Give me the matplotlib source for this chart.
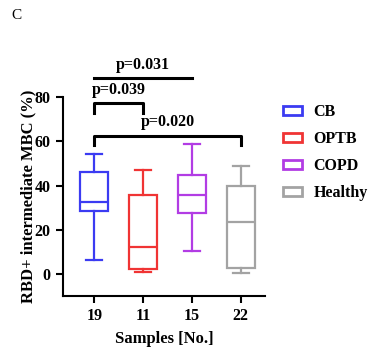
import matplotlib.pyplot as plt
from matplotlib.patches import Patch

plt.rcParams['font.family'] = ['Liberation Serif', 'DejaVu Serif']
plt.rcParams['font.weight'] = 'bold'

groups = ["CB", "OPTB", "COPD", "Healthy"]
samples = ["19", "11", "15", "22"]
colors = ["#3b3bf2", "#f03434", "#b23ce4", "#a3a3a3"]

whislo = [6.3, 0.9, 10.5, 0.6]
q1 = [28.7, 2.3, 27.5, 2.9]
med = [32.6, 12.0, 35.8, 23.5]
q3 = [46.2, 35.8, 44.8, 39.7]
whishi = [54.3, 47.2, 58.9, 48.9]

# significance brackets: (group a, group b, y, p text)
brackets = [(0, 1, 77.3, "p=0.039"), (0, 3, 62.5, "p=0.020")]
top_line = (0, 2, 88.7, "p=0.031")

fig = plt.figure(figsize=(3.75, 3.53), dpi=100)
ax = fig.add_axes([0.167, 0.1615, 0.54, 0.563])

stats = []
for i in range(len(groups)):
    stats.append(dict(med=med[i], q1=q1[i], q3=q3[i], whislo=whislo[i], whishi=whishi[i], fliers=[]))
bp = ax.bxp(stats, positions=range(4), widths=0.57, capwidths=0.33, patch_artist=True, showfliers=False)
for i, c in enumerate(colors):
    bp['boxes'][i].set(facecolor='white', edgecolor=c, linewidth=1.6)
    bp['medians'][i].set(color=c, linewidth=1.6)
    for k in (2 * i, 2 * i + 1):
        bp['whiskers'][k].set(color=c, linewidth=1.6)
        bp['caps'][k].set(color=c, linewidth=1.6)

ax.set_xlim(-0.65, 3.5)
ax.set_ylim(-10, 80)
ax.set_yticks([0, 20, 40, 60, 80])
ax.set_xticks(range(4))
ax.set_xticklabels(samples)
for s in ("top", "right"):
    ax.spines[s].set_visible(False)
for s in ("left", "bottom"):
    ax.spines[s].set_linewidth(1.5)
ax.tick_params(width=1.5, length=5, labelsize=11.5)
ax.set_xlabel("Samples [No.]", fontsize=12, fontweight='bold', labelpad=5)
ax.set_ylabel("RBD+ intermediate MBC (%)", fontsize=12, fontweight='bold', labelpad=-1)

for a, b, y, txt in brackets:
    ax.plot([a, a, b, b], [y - 4.3, y, y, y - 4.3], color='black', lw=2.2, clip_on=False)
    ax.text((a + b) / 2, y + 2.5, txt, ha='center', va='bottom', fontsize=11.5, fontweight='bold')
a, b, y, txt = top_line
ax.plot([a, b], [y, y], color='black', lw=2.2, clip_on=False)
ax.text((a + b) / 2, y + 2.5, txt, ha='center', va='bottom', fontsize=11.5, fontweight='bold')

handles = [Patch(facecolor='white', edgecolor=c, linewidth=2, label=g) for g, c in zip(groups, colors)]
fig.legend(handles=handles, loc='upper left', bbox_to_anchor=(0.715, 0.745), frameon=False,
           fontsize=11.5, handlelength=1.25, handleheight=0.45, labelspacing=0.68, handletextpad=0.7)

fig.text(0.03, 0.975, "C", fontsize=11, fontweight='normal', va='top')

fig.savefig("out.png", dpi=100)
